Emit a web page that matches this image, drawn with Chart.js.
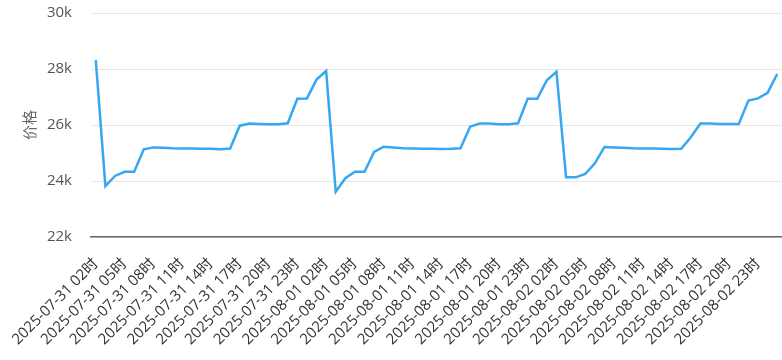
<!DOCTYPE html>
<html>
<head>
<meta charset="utf-8">
<script src="https://cdn.jsdelivr.net/npm/chart.js@4/dist/chart.umd.min.js"></script>
<style>
  html, body { margin: 0; padding: 0; background: #fff; }
  #wrap { width: 782px; height: 360px; position: relative; }
</style>
</head>
<body>
<div id="wrap"><canvas id="priceChart" width="782" height="360"></canvas></div>
<script>
// hourly price, 2025-07-31 02时 .. 2025-08-03 01时
const hours = [
  '2025-07-31 02时', '2025-07-31 03时', '2025-07-31 04时', '2025-07-31 05时', '2025-07-31 06时', '2025-07-31 07时',
  '2025-07-31 08时', '2025-07-31 09时', '2025-07-31 10时', '2025-07-31 11时', '2025-07-31 12时', '2025-07-31 13时',
  '2025-07-31 14时', '2025-07-31 15时', '2025-07-31 16时', '2025-07-31 17时', '2025-07-31 18时', '2025-07-31 19时',
  '2025-07-31 20时', '2025-07-31 21时', '2025-07-31 22时', '2025-07-31 23时', '2025-08-01 00时', '2025-08-01 01时',
  '2025-08-01 02时', '2025-08-01 03时', '2025-08-01 04时', '2025-08-01 05时', '2025-08-01 06时', '2025-08-01 07时',
  '2025-08-01 08时', '2025-08-01 09时', '2025-08-01 10时', '2025-08-01 11时', '2025-08-01 12时', '2025-08-01 13时',
  '2025-08-01 14时', '2025-08-01 15时', '2025-08-01 16时', '2025-08-01 17时', '2025-08-01 18时', '2025-08-01 19时',
  '2025-08-01 20时', '2025-08-01 21时', '2025-08-01 22时', '2025-08-01 23时', '2025-08-02 00时', '2025-08-02 01时',
  '2025-08-02 02时', '2025-08-02 03时', '2025-08-02 04时', '2025-08-02 05时', '2025-08-02 06时', '2025-08-02 07时',
  '2025-08-02 08时', '2025-08-02 09时', '2025-08-02 10时', '2025-08-02 11时', '2025-08-02 12时', '2025-08-02 13时',
  '2025-08-02 14时', '2025-08-02 15时', '2025-08-02 16时', '2025-08-02 17时', '2025-08-02 18时', '2025-08-02 19时',
  '2025-08-02 20时', '2025-08-02 21时', '2025-08-02 22时', '2025-08-02 23时', '2025-08-03 00时', '2025-08-03 01时'
];

const prices = [
  28320, 23820, 24180, 24330, 24330, 25130, 25200, 25190, 25170, 25160, 25160, 25150,
  25150, 25130, 25160, 25975, 26050, 26040, 26025, 26025, 26060, 26940, 26950, 27620,
  27930, 23620, 24100, 24330, 24330, 25035, 25225, 25200, 25170, 25160, 25150, 25150,
  25140, 25150, 25170, 25940, 26050, 26050, 26025, 26025, 26060, 26940, 26940, 27600,
  27900, 24130, 24130, 24250, 24630, 25210, 25200, 25190, 25170, 25160, 25160, 25150,
  25140, 25150, 25560, 26050, 26050, 26040, 26040, 26040, 26870, 26950, 27150, 27820
];

const yTicks = [22000, 24000, 26000, 28000, 30000];

const fontFamily = '"Open Sans", "Noto Sans CJK SC", sans-serif';

new Chart(document.getElementById('priceChart'), {
  type: 'line',
  data: {
    labels: hours,
    datasets: [{
      label: '价格',
      data: prices,
      borderColor: '#36a8f2',
      borderWidth: 2.5,
      pointRadius: 0,
      tension: 0,
      fill: false
    }]
  },
  options: {
    responsive: false,
    animation: false,
    layout: { padding: { left: 22, right: 0, top: 13, bottom: 0 } },
    plugins: {
      legend: { display: false },
      tooltip: { enabled: false }
    },
    scales: {
      x: {
        type: 'category',
        offset: true,
        grid: { display: false, drawTicks: false },
        border: { display: true, color: '#666', width: 1.5 },
        ticks: {
          autoSkip: false,
          minRotation: 45,
          maxRotation: 45,
          padding: 18,
          color: '#333',
          font: { family: fontFamily, size: 15 },
          callback: function (value, index) {
            return index % 3 === 0 ? hours[index] : '';
          }
        },
        afterFit: function (scale) {
          scale.height = 123;
          scale.paddingLeft = 0;
          scale.paddingRight = 0;
        }
      },
      y: {
        min: 22000,
        max: 30000,
        afterBuildTicks: function (scale) {
          scale.ticks = yTicks.map(v => ({ value: v }));
        },
        grid: { color: '#e6e6e6', drawTicks: false },
        border: { display: false },
        ticks: {
          padding: 19,
          color: '#555',
          font: { family: fontFamily, size: 15 },
          callback: function (value) { return (value / 1000) + 'k'; }
        },
        title: {
          display: true,
          text: '价格',
          color: '#666',
          padding: 0,
          font: { family: fontFamily, size: 15 }
        },
        afterFit: function (scale) {
          scale.width = 69;
          scale.paddingTop = 0;
          scale.paddingBottom = 0;
        }
      }
    }
  }
});
</script>
</body>
</html>
